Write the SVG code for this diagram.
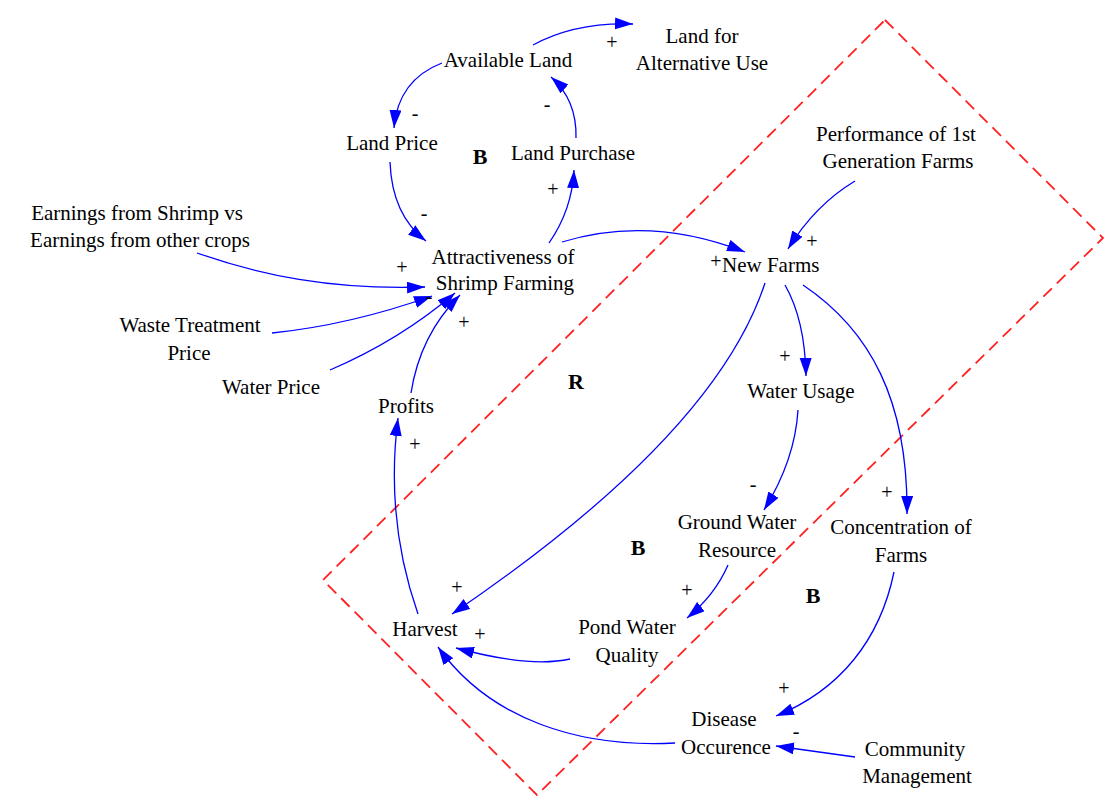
<svg xmlns="http://www.w3.org/2000/svg" width="1118" height="796" viewBox="0 0 1118 796">
<style>
text{font-family:"Liberation Serif","Times New Roman","DejaVu Serif",serif;font-size:21px;fill:#000;text-anchor:middle}
.b{font-weight:bold;font-size:22px}
.s{font-size:20px}
.c{fill:none;stroke:#0000ff;stroke-width:1.3;marker-end:url(#ah)}
.box{fill:none;stroke:#ff2020;stroke-width:1.8;stroke-dasharray:12 7}
</style>
<defs>
<marker id="ah" markerUnits="userSpaceOnUse" markerWidth="20" markerHeight="14" refX="18" refY="6" orient="auto">
<path d="M0,0 L18,6 L0,12 Z" fill="#0000ff"/>
</marker>
</defs>
<rect width="1118" height="796" fill="#fff"/>
<polygon class="box" points="885,20 1103,238 537,795 323,580"/>
<g id="connectors">
<path class="c" d="M533,45 Q575,22 633,24"/>
<path class="c" d="M442,63 Q398,80 394,128"/>
<path class="c" d="M576,138 Q577,100 551,77"/>
<path class="c" d="M390,162 Q392,215 426,241"/>
<path class="c" d="M549,243 Q572,210 574,170"/>
<path class="c" d="M562,242 Q650,215 745,252"/>
<path class="c" d="M855,181 Q815,205 788,249"/>
<path class="c" d="M197,253 C260,275 330,290 425,287"/>
<path class="c" d="M272,333 Q350,325 432,296"/>
<path class="c" d="M330,370 Q400,340 455,293"/>
<path class="c" d="M411,393 Q420,335 460,295"/>
<path class="c" d="M418,614 Q385,520 398,418"/>
<path class="c" d="M765,283 C730,390 620,500 452,614"/>
<path class="c" d="M785,285 Q805,320 806,376"/>
<path class="c" d="M803,285 C870,330 908,400 907,514"/>
<path class="c" d="M798,410 Q795,460 764,510"/>
<path class="c" d="M728,565 Q715,595 687,618"/>
<path class="c" d="M570,659 Q530,668 456,648"/>
<path class="c" d="M675,743 C580,748 490,720 438,647"/>
<path class="c" d="M894,572 C880,640 840,690 776,716"/>
<path class="c" d="M855,757 Q820,752 776,746"/>
</g>
<g id="available-land"><text x="508" y="67">Available Land</text></g>
<g id="land-alt"><text x="702" y="43">Land for</text><text x="702" y="70">Alternative Use</text></g>
<g id="land-price"><text x="392" y="150">Land Price</text></g>
<g id="land-purchase"><text x="573" y="160">Land Purchase</text></g>
<g id="earnings"><text x="137" y="220">Earnings from Shrimp vs</text><text x="140" y="247">Earnings from other crops</text></g>
<g id="attractiveness"><text x="503" y="264">Attractiveness of</text><text x="505" y="290">Shrimp Farming</text></g>
<g id="waste"><text x="190" y="332">Waste Treatment</text><text x="189" y="360">Price</text></g>
<g id="water-price"><text x="271" y="394">Water Price</text></g>
<g id="profits"><text x="406" y="413">Profits</text></g>
<g id="new-farms"><text x="722" y="272" style="text-anchor:start">New Farms</text></g>
<g id="performance"><text x="896" y="141">Performance of 1st</text><text x="898" y="168">Generation Farms</text></g>
<g id="water-usage"><text x="801" y="398">Water Usage</text></g>
<g id="ground-water"><text x="737" y="529">Ground Water</text><text x="737" y="557">Resource</text></g>
<g id="concentration"><text x="901" y="534">Concentration of</text><text x="901" y="562">Farms</text></g>
<g id="harvest"><text x="425" y="636">Harvest</text></g>
<g id="pond"><text x="627" y="634">Pond Water</text><text x="627" y="662">Quality</text></g>
<g id="disease"><text x="724" y="726">Disease</text><text x="726" y="754">Occurence</text></g>
<g id="community"><text x="915" y="756">Community</text><text x="917" y="783">Management</text></g>
<g id="loops">
<text class="b" x="480" y="164">B</text>
<text class="b" x="576" y="389">R</text>
<text class="b" x="638" y="555">B</text>
<text class="b" x="813" y="603">B</text>
</g>
<g id="signs">
<text class="s" x="612" y="49">+</text>
<text class="s" x="415" y="120">-</text>
<text class="s" x="547" y="111">-</text>
<text class="s" x="553" y="196">+</text>
<text class="s" x="424" y="220">-</text>
<text class="s" x="402" y="274">+</text>
<text class="s" x="429" y="303">-</text>
<text class="s" x="464" y="329">+</text>
<text class="s" x="415" y="451">+</text>
<text class="s" x="812" y="248">+</text>
<text class="s" x="716" y="268">+</text>
<text class="s" x="785" y="363">+</text>
<text class="s" x="753" y="491">-</text>
<text class="s" x="887" y="499">+</text>
<text class="s" x="457" y="594">+</text>
<text class="s" x="480" y="641">+</text>
<text class="s" x="687" y="597">+</text>
<text class="s" x="784" y="695">+</text>
<text class="s" x="796" y="738">-</text>
</g>
</svg>
